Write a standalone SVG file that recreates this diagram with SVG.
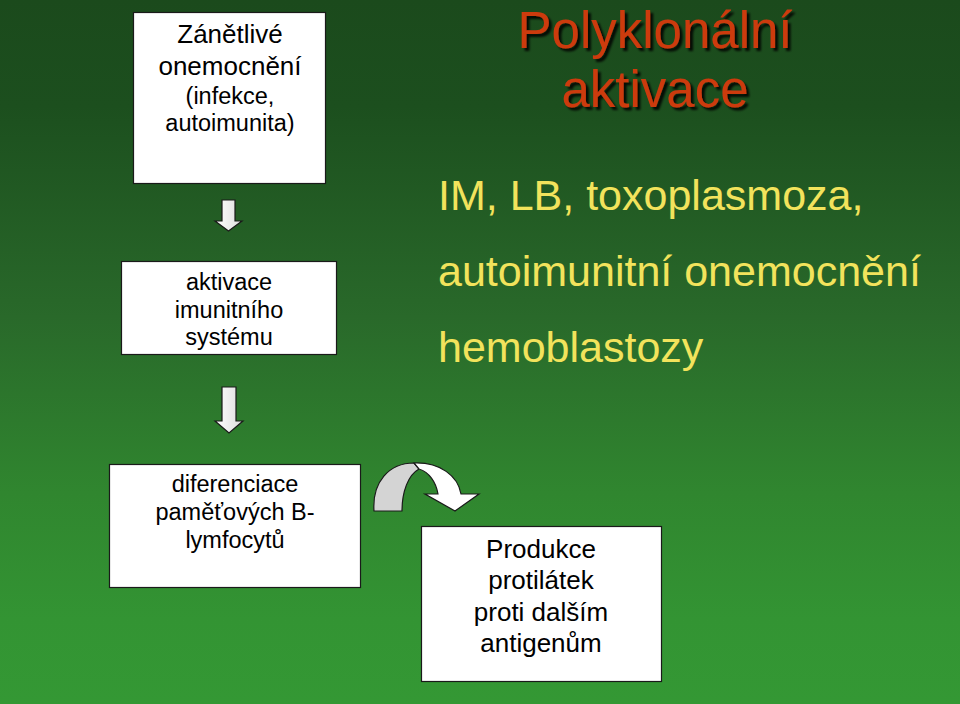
<svg xmlns="http://www.w3.org/2000/svg" width="960" height="704" viewBox="0 0 960 704">
  <defs>
    <linearGradient id="bg" x1="0" y1="0" x2="0" y2="1">
      <stop offset="0" stop-color="#1B4A1C"/>
      <stop offset="0.15" stop-color="#1C4F1E"/>
      <stop offset="0.45" stop-color="#29692A"/>
      <stop offset="0.7" stop-color="#30862F"/>
      <stop offset="0.88" stop-color="#339433"/>
      <stop offset="1" stop-color="#349834"/>
    </linearGradient>
    <linearGradient id="arrowFill" x1="0" y1="0" x2="1" y2="0">
      <stop offset="0" stop-color="#FFFFFF"/>
      <stop offset="1" stop-color="#DDDDDD"/>
    </linearGradient>
    <filter id="shadow" x="-10%" y="-20%" width="130%" height="150%">
      <feDropShadow dx="3" dy="3" stdDeviation="1.2" flood-color="#000000" flood-opacity="0.85"/>
    </filter>
  </defs>
  <style>
    .box { fill: #FFFFFF; stroke: #1A1A1A; stroke-width: 1.2; }
    .t { font-family: "Liberation Sans", Arial, sans-serif; fill: #000000; text-anchor: middle; }
    .title { font-family: "Liberation Sans", Arial, sans-serif; fill: #CC3A10; text-anchor: middle; font-size: 51px; }
    .y { font-family: "Liberation Sans", Arial, sans-serif; fill: #F2E35C; font-size: 43px; }
    .arr { fill: url(#arrowFill); stroke: #1A1A1A; stroke-width: 1.2; stroke-linejoin: miter; }
  </style>
  <rect x="0" y="0" width="960" height="704" fill="url(#bg)"/>

  <g id="title" filter="url(#shadow)">
    <text class="title" x="655" y="48">Polyklonální</text>
    <text class="title" x="655" y="107">aktivace</text>
  </g>

  <g id="examples">
    <text class="y" x="438" y="210">IM, LB, toxoplasmoza,</text>
    <text class="y" x="438" y="286">autoimunitní onemocnění</text>
    <text class="y" x="438" y="362">hemoblastozy</text>
  </g>

  <g id="node-zanetlive">
    <rect class="box" x="133.5" y="12.5" width="192" height="171"/>
    <text class="t" x="230" y="43" font-size="26">Zánětlivé</text>
    <text class="t" x="230" y="75" font-size="26">onemocnění</text>
    <text class="t" x="230" y="104" font-size="23.5">(infekce,</text>
    <text class="t" x="230" y="131" font-size="23.5">autoimunita)</text>
  </g>

  <g id="node-aktivace">
    <rect class="box" x="121.5" y="261.5" width="215" height="93"/>
    <text class="t" x="229" y="290" font-size="23.5">aktivace</text>
    <text class="t" x="229" y="318" font-size="23.5">imunitního</text>
    <text class="t" x="229" y="345" font-size="23.5">systému</text>
  </g>

  <g id="node-diferenciace">
    <rect class="box" x="109.5" y="464.5" width="251" height="123"/>
    <text class="t" x="235" y="492" font-size="23.5">diferenciace</text>
    <text class="t" x="235" y="520" font-size="23.5">paměťových B-</text>
    <text class="t" x="235" y="548" font-size="23.5">lymfocytů</text>
  </g>

  <g id="node-produkce">
    <rect class="box" x="421.5" y="526.5" width="240" height="155"/>
    <text class="t" x="541" y="558" font-size="26">Produkce</text>
    <text class="t" x="541" y="589" font-size="26">protilátek</text>
    <text class="t" x="541" y="621" font-size="26">proti dalším</text>
    <text class="t" x="541" y="652" font-size="26">antigenům</text>
  </g>

  <g id="connectors">
    <path class="arr" d="M222,200 L235,200 L235,221 L242,221 L228.5,231 L215,221 L222,221 Z"/>
    <path class="arr" d="M222,387 L236,387 L236,421 L243,421 L229,433 L215,421 L222,421 Z"/>
    <path d="M374,511 C372,482 389,463 414,463 L419,469 C408,475 402,492 402,511 Z" fill="#D4D4D4" stroke="#1A1A1A" stroke-width="1.2" stroke-linejoin="round"/>
    <path d="M414,463 C440,462 458,476 461,494 L479,494 L455,511 L425,494 L438,494 C436,482 429,472 419,469 Z" fill="#FFFFFF" stroke="#1A1A1A" stroke-width="1.2" stroke-linejoin="miter"/>
  </g>
</svg>
